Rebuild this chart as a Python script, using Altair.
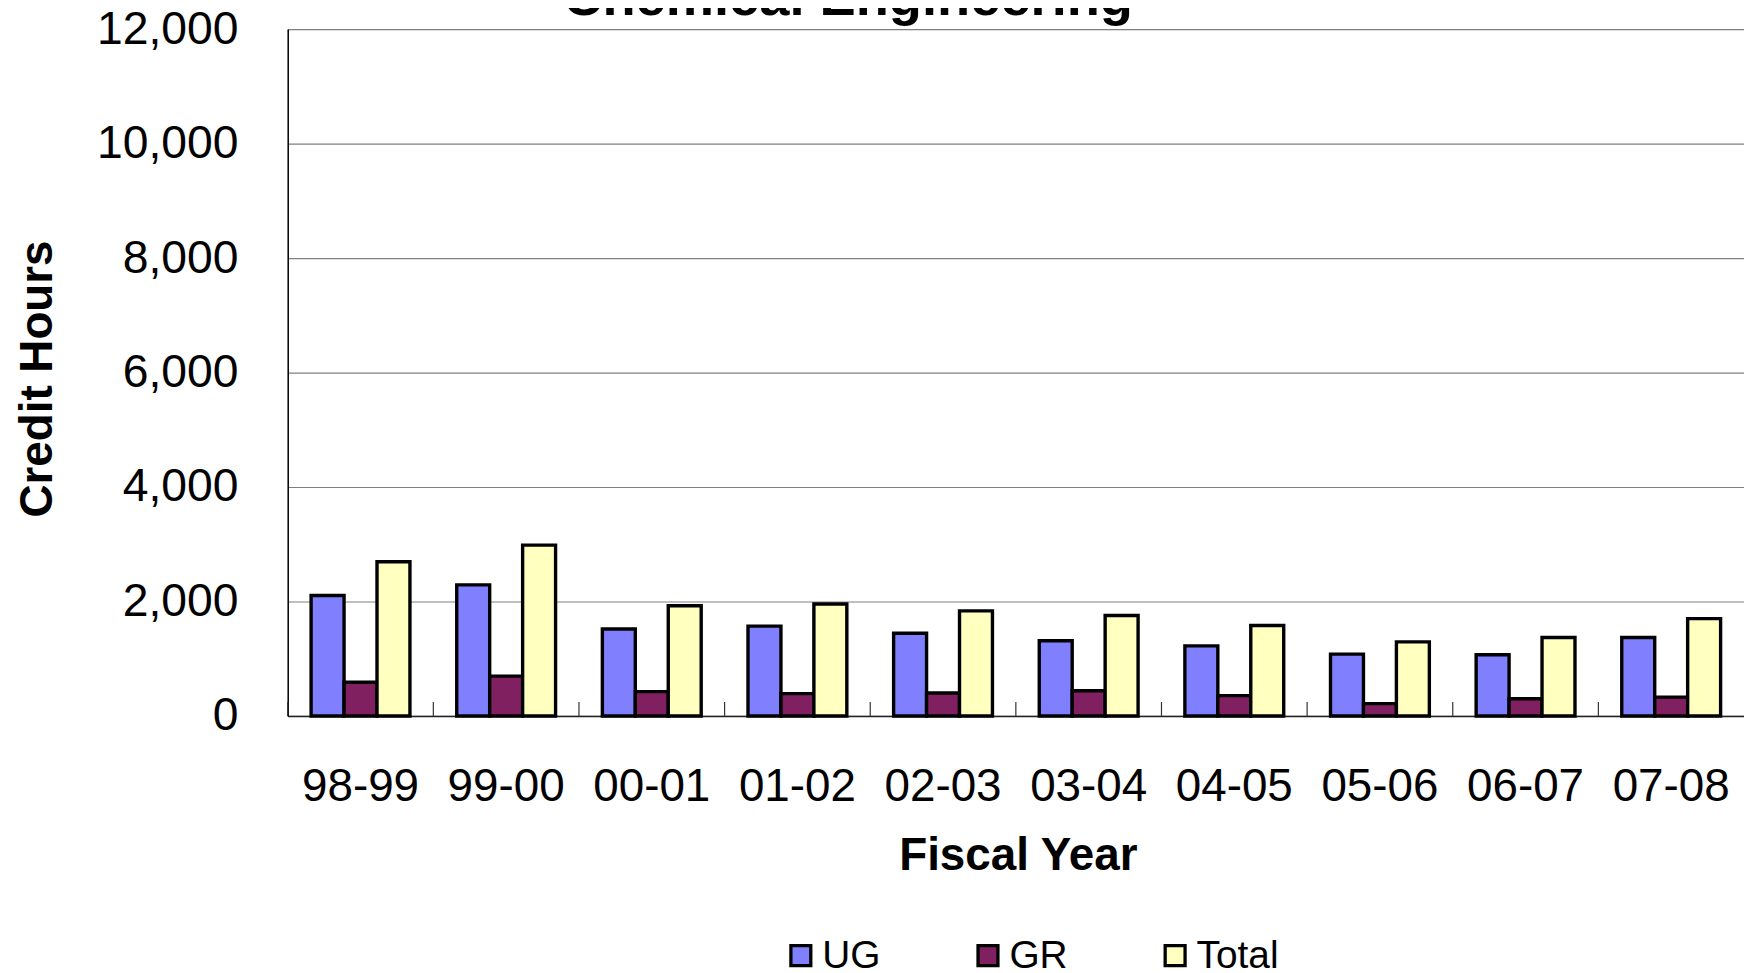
import altair as alt
import pandas as pd

years = ["98-99", "99-00", "00-01", "01-02", "02-03", "03-04", "04-05", "05-06", "06-07", "07-08"]
ug = [2105, 2290, 1520, 1570, 1445, 1315, 1225, 1080, 1070, 1370]
gr = [590, 695, 425, 390, 400, 440, 355, 215, 300, 330]
total = [2695, 2985, 1925, 1955, 1835, 1755, 1580, 1295, 1370, 1700]
series = ["UG", "GR", "Total"]
colors = ["#8080FF", "#802060", "#FFFFC0"]
y_ticks = [0, 2000, 4000, 6000, 8000, 10000, 12000]
title_text = "Chemical Engineering"

rows = []
for i, yr in enumerate(years):
    for s, vals in zip(series, [ug, gr, total]):
        rows.append({"year": yr, "series": s, "value": vals[i]})
df = pd.DataFrame(rows)
cats = pd.DataFrame({"year": years})
tdf = pd.DataFrame({"t": [title_text]})

W, H = 1463, 690
LEFT = 281
FONT = "Liberation Sans"

x_scale = alt.Scale(domain=years, paddingInner=0, paddingOuter=0)

bars = alt.Chart(df).mark_bar(stroke="black", strokeWidth=3.4, opacity=1).encode(
    x=alt.X("year:N", sort=years, scale=x_scale,
            axis=alt.Axis(title="Fiscal Year", ticks=False, labelPadding=49,
                          labelFontSize=46, labelFont=FONT, labelColor="black",
                          labelAngle=0, domainColor="#222", domainWidth=1.5,
                          titleFontSize=46, titleFont=FONT, titleFontWeight="bold",
                          titleColor="black", titleBaseline="alphabetic",
                          titleY=154, titleX=W / 2 + 2)),
    xOffset=alt.XOffset("series:N", sort=series,
                        scale=alt.Scale(paddingInner=0, paddingOuter=0.71)),
    y=alt.Y("value:Q", scale=alt.Scale(domain=[0, 12000], nice=False),
            axis=alt.Axis(title="Credit Hours", values=y_ticks, format=",.0f",
                          ticks=False, labelPadding=50, labelFontSize=46.5,
                          labelFont=FONT, labelColor="black",
                          domainColor="black", domainWidth=1.5,
                          gridColor="#808080", gridWidth=1.2,
                          titleFontSize=46, titleFont=FONT, titleFontWeight="bold",
                          titleColor="black", titleAngle=270,
                          titleBaseline="alphabetic", titleX=-237, titleY=351,
                          titleAlign="center")),
    color=alt.Color("series:N", sort=series,
                    scale=alt.Scale(domain=series, range=colors),
                    legend=alt.Legend(title=None, orient="none", direction="horizontal",
                                      columns=3, legendX=496, legendY=911,
                                      symbolType="square", symbolSize=400,
                                      symbolStrokeColor="black", symbolStrokeWidth=3.3,
                                      symbolOpacity=1, labelFontSize=39, labelFont=FONT,
                                      labelColor="black", labelOffset=2,
                                      columnPadding=88, padding=0)),
)

ticks = alt.Chart(cats).mark_rule(color="#333", strokeWidth=1.2).encode(
    x=alt.X("year:N", sort=years, bandPosition=0),
    y=alt.value(H),
    y2=alt.value(H - 14),
)

title = alt.Chart(tdf).mark_text(font=FONT, fontSize=54.5, fontWeight="bold",
                                 color="black", align="center",
                                 baseline="alphabetic").encode(
    text="t:N",
    x=alt.value(852 - 8 - LEFT),
    y=alt.value(-14),
)

chart = alt.layer(bars, ticks, title).properties(
    width=W, height=H,
    autosize=alt.AutoSizeParams(type="none"),
    padding={"left": LEFT, "top": 19, "right": 0, "bottom": 256},
).configure_view(stroke="black", strokeWidth=1.5).configure(background="white")

chart.save("out.html", embed_options={"renderer": "svg", "actions": False})
